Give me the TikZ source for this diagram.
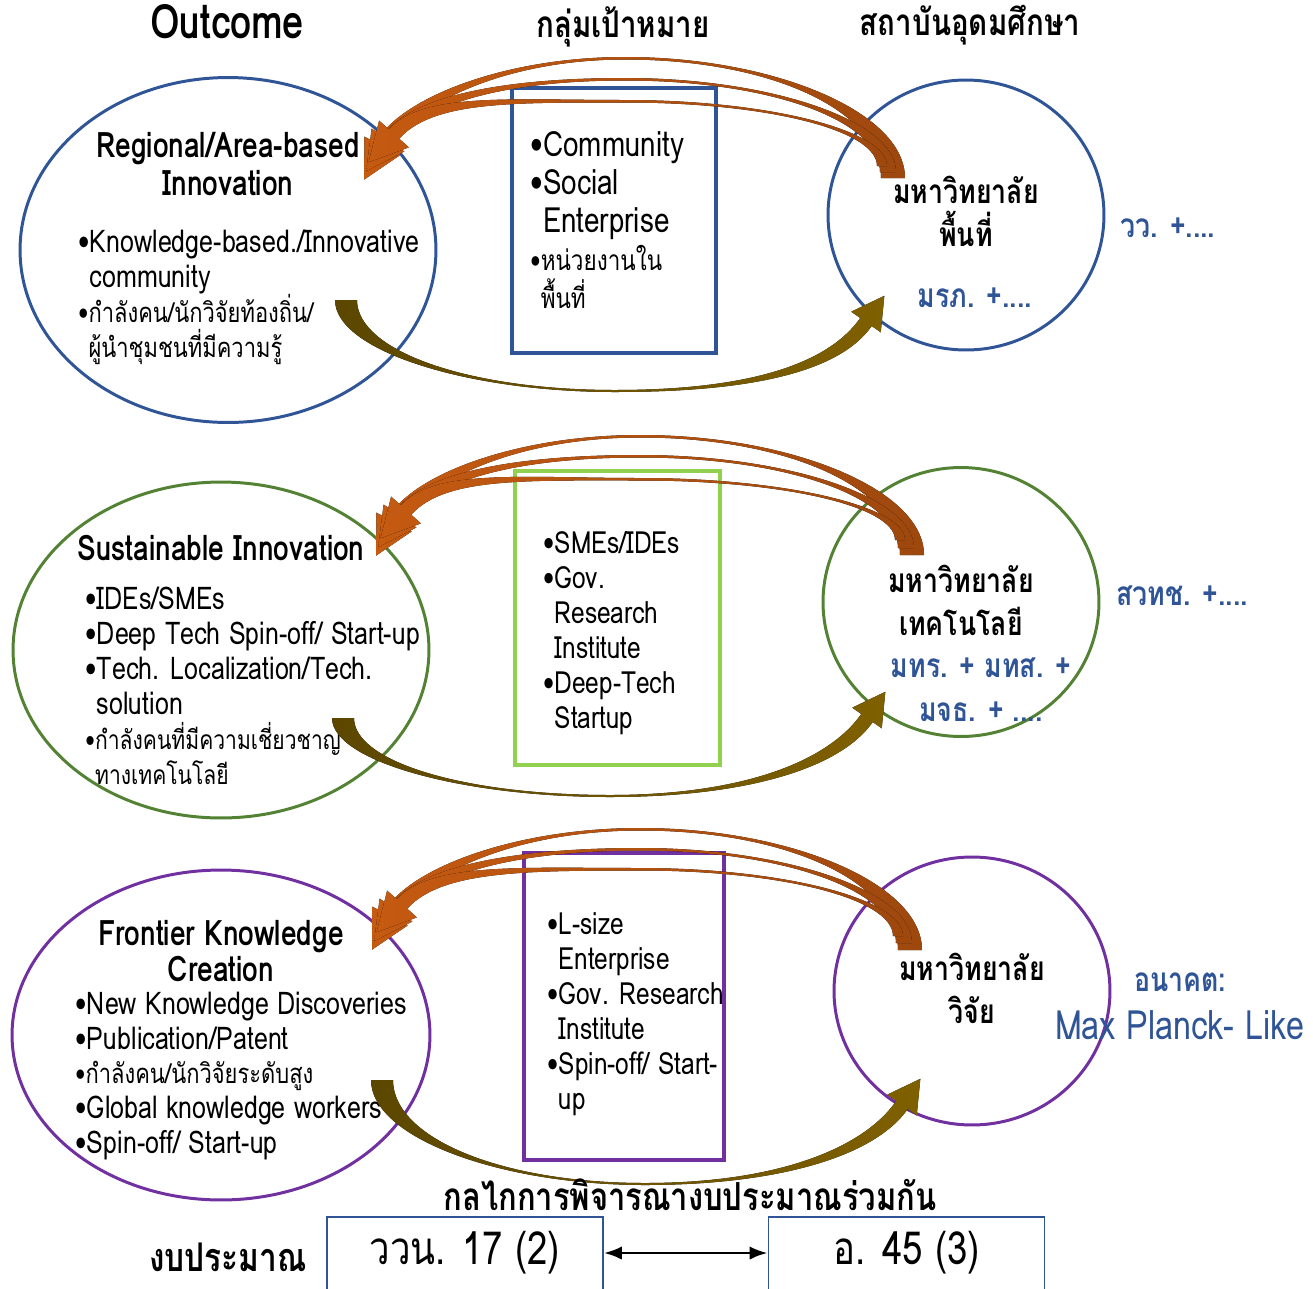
\documentclass[tikz,border=0pt]{standalone}
\usepackage{fontspec}
\setmainfont{Loma}[Script=Thai,FakeStretch=0.8]
\usetikzlibrary{positioning,arrows.meta,shapes.geometric}

\definecolor{rowblue}{HTML}{2F5597}
\definecolor{rowgreen}{HTML}{548235}
\definecolor{boxgreen}{HTML}{92D050}
\definecolor{rowpurple}{HTML}{7030A0}
\definecolor{arcorange}{HTML}{C55A11}
\definecolor{arcbrown}{HTML}{9E480E}
\definecolor{olivedark}{HTML}{5C4700}
\definecolor{olivegold}{HTML}{7F6000}

% Thai lines are set a little smaller than the Latin ones
\newcommand{\thaisz}{\fontsize{15.6}{19.9}\selectfont}

% tapered arc back to the outcome: xr yr halfwidth xp yp xb yb angle
\newcommand{\backarc}[8]{%
\pgfmathsetmacro{\tipcos}{cos(#8)}\pgfmathsetmacro{\tipsin}{sin(#8)}
\fill[backfill] ({#1+#3},#2)
 .. controls ({#1+#3},{#2-0.55*(#2-#5)}) and ({#4+0.55*(#1-#4)},#5) .. (#4,#5)
 .. controls ({#4-0.5*(#4-#6)},#5) and ({#6-7*\tipsin+50*\tipcos},{#7-7*\tipcos-50*\tipsin}) .. ({#6-7*\tipsin},{#7-7*\tipcos})
 -- ({#6-20*\tipsin},{#7-20*\tipcos}) -- ({#6-38*\tipcos},{#7+38*\tipsin})
 -- ({#6+20*\tipsin},{#7+20*\tipcos}) -- ({#6+7*\tipsin},{#7+7*\tipcos})
 .. controls ({#6+7*\tipsin+50*\tipcos},{#7+7*\tipcos-50*\tipsin}) and ({#4-0.5*(#4-#6)},{#5+2.5}) .. (#4,{#5+2.5})
 .. controls ({#4+0.55*(#1-#4)},{#5+2.5}) and ({#1-#3},{#2-0.55*(#2-#5)}) .. ({#1-#3},#2) -- cycle;}

% tapered arc out to the university: xs ys halfwidth xm ym xb yb angle
\newcommand{\fwdarc}[8]{%
\pgfmathsetmacro{\tipcos}{cos(#8)}\pgfmathsetmacro{\tipsin}{sin(#8)}
\fill[fwdfill] ({#1-#3},#2)
 .. controls ({#1-#3},{#2+0.55*(#5-#2)}) and ({#4-0.55*(#4-#1)},#5) .. (#4,#5)
 .. controls ({#4+0.5*(#6-#4)},#5) and ({#6+7*\tipsin-60*\tipcos},{#7+7*\tipcos+60*\tipsin}) .. ({#6+7*\tipsin},{#7+7*\tipcos})
 -- ({#6+18*\tipsin},{#7+18*\tipcos}) -- ({#6+32*\tipcos},{#7-32*\tipsin})
 -- ({#6-18*\tipsin},{#7-18*\tipcos}) -- ({#6-7*\tipsin},{#7-7*\tipcos})
 .. controls ({#6-7*\tipsin-60*\tipcos},{#7-7*\tipcos+60*\tipsin}) and ({#4+0.5*(#6-#4)},{#5-2}) .. (#4,{#5-2})
 .. controls ({#4-0.55*(#4-#1)},{#5-2}) and ({#1+#3},{#2+0.55*(#5-#2)}) .. ({#1+#3},#2) -- cycle;}

\begin{document}
\begin{tikzpicture}[
x=0.02cm, y=-0.02cm,
outcome/.style={draw, ellipse, line width=1.7pt, minimum width=8.32cm, minimum height=6.8cm, inner sep=0pt},
uni/.style={draw, ellipse, line width=1.7pt, minimum width=5.52cm, minimum height=5.4cm, inner sep=0pt},
target/.style={draw, line width=2pt, inner sep=0pt},
headtext/.style={font=\bfseries\fontsize{21}{25}\selectfont},
titletext/.style={font=\bfseries\fontsize{20}{21.5}\selectfont, align=center, inner sep=0pt},
bodytext/.style={font=\fontsize{17.8}{19.9}\selectfont, align=left, anchor=west, inner sep=0pt},
unitext/.style={font=\bfseries\fontsize{19}{24.5}\selectfont, align=center},
agency/.style={font=\bfseries\fontsize{19}{25}\selectfont, text=rowblue, align=center},
budbox/.style={draw=rowblue, line width=1.1pt, minimum width=5.52cm, minimum height=2.2cm, inner sep=0pt},
budtext/.style={font=\fontsize{26}{30}\selectfont},
backfill/.style={left color=arcorange, right color=arcbrown},
fwdfill/.style={left color=olivedark, right color=olivegold}
]
\useasboundingbox (0,0) rectangle (1313,1289);

%%%%%%%%%%%%%%%%%%%%%%%%%%%%%%%%%%%%
% Headings
%%%%%%%%%%%%%%%%%%%%%%%%%%%%%%%%%%%%

\node[headtext, font=\bfseries\fontsize{27}{30}\selectfont] (hOut) at (227,22) {Outcome};
\node[headtext] (hTgt) at (623,27) {กลุ่มเป้าหมาย};
\node[headtext] (hUni) at (970,25) {สถาบันอุดมศึกษา};

%%%%%%%%%%%%%%%%%%%%%%%%%%%%%%%%%%%%
% Row 1: area-based
%%%%%%%%%%%%%%%%%%%%%%%%%%%%%%%%%%%%

\node[outcome, draw=rowblue, minimum height=6.9cm] (outA) at (228,250) {};
\node[uni, draw=rowblue] (uniA) at (966,215) {};
\node[target, draw=rowblue, minimum width=4.08cm, minimum height=5.3cm] (tgtA) at (614,220.5) {};

\node[titletext] (titleA) at (228,164) {Regional/Area-based\\Innovation};
\node[bodytext] (listA) at (78,297) {•Knowledge-based./Innovative\\\phantom{•}community\\{\thaisz •กำลังคน/นักวิจัยท้องถิ่น/}\\{\thaisz\phantom{•}ผู้นำชุมชนที่มีความรู้}};
\node[bodytext, font=\fontsize{19.8}{21.7}\selectfont] (itemsA) at (530,220) {•Community\\•Social\\\phantom{•}Enterprise\\{\fontsize{16}{21.7}\selectfont •หน่วยงานใน}\\{\fontsize{16}{21.7}\selectfont\phantom{•}พื้นที่}};
\node[unitext] (nameA) at (966,211) {มหาวิทยาลัย\\พื้นที่};
\node[agency] (agA) at (975,298) {มรภ. +....};
\node[agency] (extA) at (1168,228) {วว. +....};

%%%%%%%%%%%%%%%%%%%%%%%%%%%%%%%%%%%%
% Row 2: sustainable
%%%%%%%%%%%%%%%%%%%%%%%%%%%%%%%%%%%%

\node[outcome, draw=rowgreen, minimum height=6.72cm] (outB) at (221,650) {};
\node[uni, draw=rowgreen, minimum height=5.38cm] (uniB) at (961,602) {};
\node[target, draw=boxgreen, minimum width=4.1cm, minimum height=5.88cm] (tgtB) at (617.5,618) {};

\node[titletext] (titleB) at (221,548) {Sustainable Innovation};
\node[bodytext] (listB) at (85,685.5) {•IDEs/SMEs\\•Deep Tech Spin-off/ Start-up\\•Tech. Localization/Tech.\\\phantom{•}solution\\{\fontsize{15}{19.9}\selectfont •กำลังคนที่มีความเชี่ยวชาญ}\\{\fontsize{15}{19.9}\selectfont\phantom{•}ทางเทคโนโลยี}};
\node[bodytext, font=\fontsize{17.4}{19.9}\selectfont] (itemsB) at (543,633.5) {•SMEs/IDEs\\•Gov.\\\phantom{•}Research\\\phantom{•}Institute\\•Deep-Tech\\\phantom{•}Startup};
\node[unitext] (nameB) at (961,600) {มหาวิทยาลัย\\เทคโนโลยี};
\node[agency] (agB) at (981,690) {มทร. + มทส. +\\มจธ. + ....};
\node[agency] (extB) at (1182,596) {สวทช. +....};

%%%%%%%%%%%%%%%%%%%%%%%%%%%%%%%%%%%%
% Row 3: frontier
%%%%%%%%%%%%%%%%%%%%%%%%%%%%%%%%%%%%

\node[outcome, draw=rowpurple, minimum width=8.36cm, minimum height=6.6cm] (outC) at (221,1035) {};
\node[uni, draw=rowpurple, minimum height=5.36cm] (uniC) at (972,991) {};
\node[target, draw=rowpurple, minimum width=4cm, minimum height=6.14cm] (tgtC) at (624,1006.5) {};

\node[titletext, font=\bfseries\fontsize{20}{20.5}\selectfont] (titleC) at (221,951) {Frontier Knowledge\\Creation};
\node[bodytext] (listC) at (75,1076) {•New Knowledge Discoveries\\•Publication/Patent\\{\thaisz •กำลังคน/นักวิจัยระดับสูง}\\•Global knowledge workers\\•Spin-off/ Start-up};
\node[bodytext, font=\fontsize{17.4}{19.9}\selectfont] (itemsC) at (547,1014) {•L-size\\\phantom{•}Enterprise\\•Gov. Research\\\phantom{•}Institute\\•Spin-off/ Start-\\\phantom{•}up};
\node[unitext] (nameC) at (972,988) {มหาวิทยาลัย\\วิจัย};
\node[agency] (futC) at (1180,982) {อนาคต:};
\node[agency, font=\fontsize{23}{26}\selectfont] (extC) at (1180,1025) {Max Planck- Like};

%%%%%%%%%%%%%%%%%%%%%%%%%%%%%%%%%%%%
% Arcs
%%%%%%%%%%%%%%%%%%%%%%%%%%%%%%%%%%%%

\backarc{893}{178}{12}{625}{57}{382}{146}{62}
\backarc{888}{172}{8}{625}{78}{388}{140}{55}
\backarc{882}{166}{5}{625}{100}{394}{134}{48}
\fwdarc{346}{300}{11}{615}{392}{866}{322}{55}

\backarc{912}{555}{12}{640}{435}{394}{522}{62}
\backarc{906}{548}{8}{640}{455}{400}{516}{55}
\backarc{900}{540}{5}{640}{478}{406}{510}{48}
\fwdarc{343}{718}{11}{610}{797}{867}{718}{55}

\backarc{910}{950}{12}{640}{828}{390}{916}{62}
\backarc{904}{943}{8}{640}{848}{396}{910}{55}
\backarc{898}{936}{5}{640}{868}{402}{904}{48}
\fwdarc{382}{1080}{11}{645}{1185}{902}{1105}{55}

%%%%%%%%%%%%%%%%%%%%%%%%%%%%%%%%%%%%
% Budget
%%%%%%%%%%%%%%%%%%%%%%%%%%%%%%%%%%%%

\node[headtext, font=\bfseries\fontsize{22}{26}\selectfont] (jointB) at (690,1195) {กลไกการพิจารณางบประมาณร่วมกัน};
\node[headtext, font=\bfseries\fontsize{22.5}{26}\selectfont, inner sep=0pt] (budget) at (228,1257) {งบประมาณ};
\node[budbox] (budA) at (465,1272) {};
\node[budbox] (budB) at (906.5,1272) {};
\node[budtext] (budAtxt) at (465,1253) {ววน. 17 (2)};
\node[budtext] (budBtxt) at (907,1253) {อ. 45 (3)};

\draw[Latex-Latex, line width=1.6pt] (budA.east |- budAtxt) -- (budB.west |- budAtxt);

\end{tikzpicture}
\end{document}
